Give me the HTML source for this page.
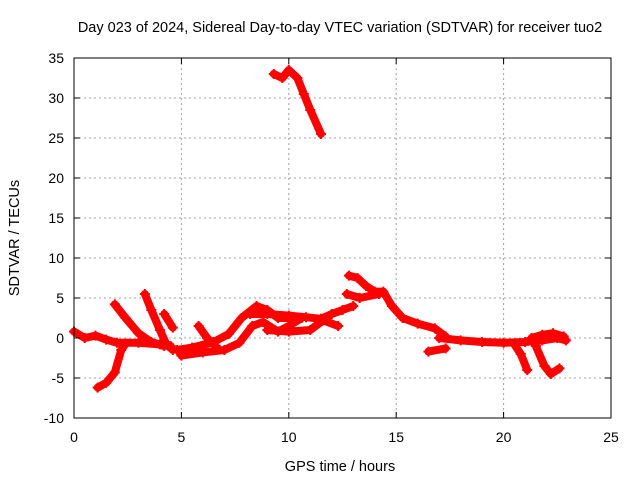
<!DOCTYPE html>
<html><head><meta charset="utf-8"><style>
body{margin:0;background:#fff}
svg{display:block;font-family:"Liberation Sans",sans-serif}
</style></head><body>
<svg id="c" width="640" height="480">
<text x="340" y="32" font-size="14.5" text-anchor="middle">Day 023 of 2024, Sidereal Day-to-day VTEC variation (SDTVAR) for receiver tuo2</text>
<text x="340" y="471" font-size="14.5" text-anchor="middle">GPS time / hours</text>
<text transform="translate(19,238) rotate(-90)" font-size="14.5" text-anchor="middle">SDTVAR / TECUs</text>
<g id="grid"></g><g id="marks"></g><g id="axes"></g>
</svg>
<script>
const xTicks=[0,5,10,15,20,25];
const yTicks=[-10,-5,0,5,10,15,20,25,30,35];
const track1=[[0,0.8],[0.5,0],[1,0.3],[1.5,-0.2],[2,-0.6],[3,-0.6],[4,-0.8],[4.5,-1]];
const track2=[[1.1,-6.2],[1.5,-5.6],[1.9,-4.3],[2.2,-1.5],[2.4,-0.7]];
const track3=[[1.9,4.2],[2.4,2.5],[3,0.6],[3.6,-0.5],[4.2,-1]];
const track4=[[3.3,5.5],[3.6,3.5],[4,1],[4.3,-0.8],[4.6,-1.5]];
const track5=[[4.2,3.0],[4.6,1.3]];
const track6=[[4.8,-1.5],[5.5,-1.2],[6.5,-0.5],[7.2,0.5],[7.8,2.5],[8.5,4],[9,3.5],[9.5,2.5],[10,2.5]];
const track7=[[5,-2.2],[6,-1.8],[7,-1.5],[7.7,-0.6],[8.3,1.5],[8.8,2],[9.5,0.8],[10,1.5],[10.6,2.5]];
const track8=[[5.8,1.5],[6.2,0],[6.6,-1]];
const track9=[[9.3,33],[9.7,32.5],[10,33.5],[10.4,32.5],[10.7,30.5],[11,28.5],[11.5,25.5]];
const track10=[[8.2,3],[9,3],[10,2.8],[10.8,2.6],[11.5,2.4],[12,3],[12.5,3.5],[13,4]];
const track11=[[9,1],[10,0.8],[11,1],[11.6,2.2],[12.3,1.5]];
const track12=[[12.8,7.8],[13.2,7.5],[13.6,6.5],[14,5.8],[14.4,5.8],[14.8,4],[15.3,2.5],[16,1.8],[16.8,1.2],[17.3,0.2]];
const track13=[[12.7,5.5],[13.3,5],[14.2,5.5]];
const track14=[[16.5,-1.7],[17.3,-1.3]];
const track15=[[17,0],[18,-0.3],[19,-0.5],[20,-0.6],[21,-0.5],[21.8,-0.3],[22.5,0],[22.9,-0.3]];
const track16=[[20.5,-0.8],[20.8,-2],[21.1,-4]];
const track17=[[21.5,-1],[21.9,-3.5],[22.2,-4.5],[22.6,-3.8]];
const track18=[[21.3,0],[21.8,0.4],[22.3,0.6],[22.8,0.2]];
const tracks=[track1,track2,track3,track4,track5,track6,track7,track8,track9,track10,track11,track12,track13,track14,track15,track16,track17,track18];
const L=74,R=611,T=58,B=418;
const X=v=>L+(v-0)/(25-0)*(R-L);
const Y=v=>B-(v+10)/45*(B-T);
const NS="http://www.w3.org/2000/svg";
function mk(tag,at,parent){const e=document.createElementNS(NS,tag);for(const k in at)e.setAttribute(k,at[k]);parent.appendChild(e);return e;}
const grid=document.getElementById('grid'),axes=document.getElementById('axes'),marks=document.getElementById('marks');
xTicks.forEach(t=>{
 if(t>0&&t<25){const g=mk('line',{x1:X(t),x2:X(t),y1:T,y2:B,stroke:'#a0a0a0','stroke-dasharray':'2,3'},grid);
 
 }
 mk('line',{x1:X(t),x2:X(t),y1:B,y2:B-6,stroke:'#000'},axes);
 mk('line',{x1:X(t),x2:X(t),y1:T,y2:T+6,stroke:'#000'},axes);
 const tx=mk('text',{x:X(t),y:B+24,'font-size':14,'text-anchor':'middle'},axes);tx.textContent=t;
 
 
});
yTicks.forEach(t=>{
 if(t>-10&&t<35){const g=mk('line',{x1:L,x2:R,y1:Y(t),y2:Y(t),stroke:'#a0a0a0','stroke-dasharray':'2,3'},grid);
 
 }
 mk('line',{x1:L,x2:L+6,y1:Y(t),y2:Y(t),stroke:'#000'},axes);
 mk('line',{x1:R,x2:R-6,y1:Y(t),y2:Y(t),stroke:'#000'},axes);
 const tx=mk('text',{x:L-10,y:Y(t)+5,'font-size':14,'text-anchor':'end'},axes);tx.textContent=t;
 
 
});
const fr=mk('rect',{x:L,y:T,width:R-L,height:B-T,fill:'none',stroke:'#000'},axes);


tracks.forEach((tr,i)=>{
 const p=mk('polyline',{points:tr.map(d=>X(d[0])+','+Y(d[1])).join(' '),fill:'none',stroke:'#ff0000','stroke-width':8,'stroke-linejoin':'round','stroke-linecap':'round'},marks);
 
 
 tr.forEach(d=>{
  const m=mk('path',{d:`M${X(d[0])-5},${Y(d[1])}h10M${X(d[0])},${Y(d[1])-5}v10`,stroke:'#ff0000','stroke-width':2},marks);
  
  
 });
});
</script>
</body></html>
